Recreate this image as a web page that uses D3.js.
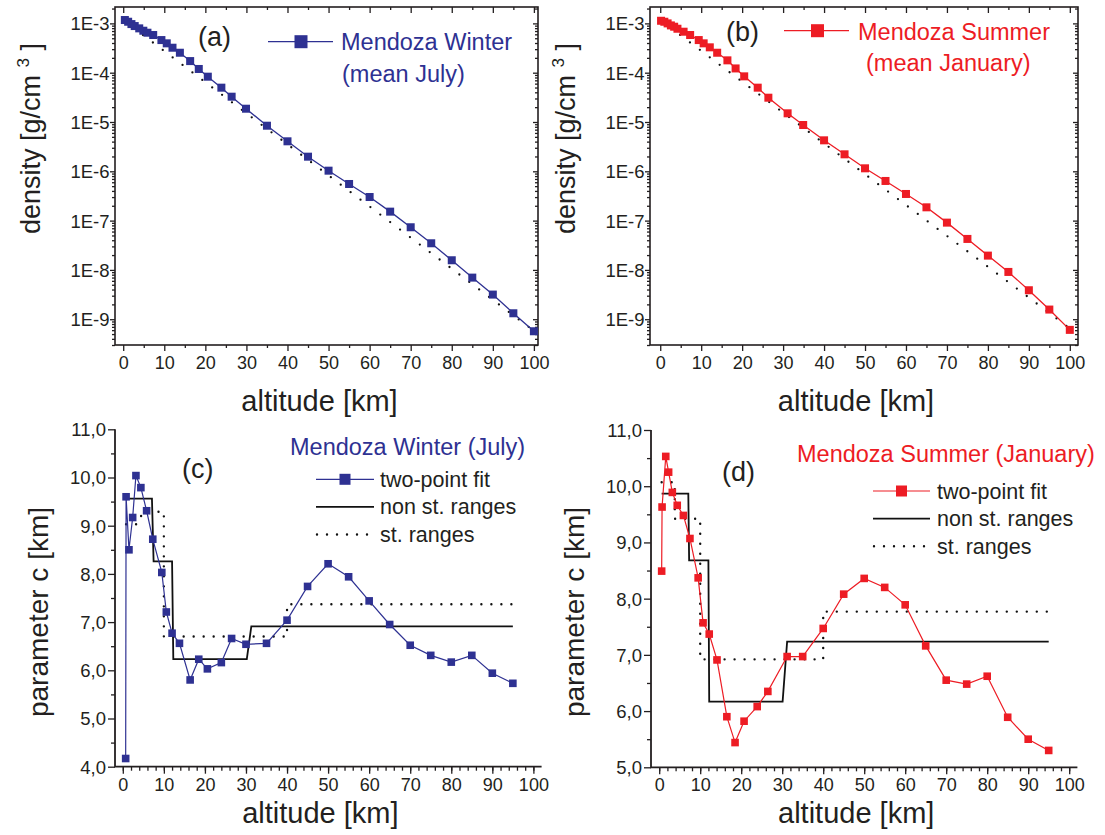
<!DOCTYPE html>
<html><head><meta charset="utf-8">
<script src="https://cdn.jsdelivr.net/npm/d3@7"></script>
<style>
body{margin:0;background:#fff}
svg{display:block}
text{font-family:"Liberation Sans",Arial,Helvetica,sans-serif}
</style>
</head><body>
<svg id="chart" width="1105" height="835"></svg>
<script>
// ---------------- data ----------------
const altTicks = [0,10,20,30,40,50,60,70,80,90,100];
const decadeTicks = [1e-9,1e-8,1e-7,1e-6,1e-5,1e-4,1e-3];
const cTicksWinter = [4,5,6,7,8,9,10,11];
const cTicksSummer = [5,6,7,8,9,10,11];

const winterAlt = [0.4,1.2,2,2.8,3.9,4.9,5.9,7.3,9.3,10.6,12,13.8,16.3,18.4,20.6,23.9,26.4,29.9,35,40,45,50,55,60,65,70,75,80,85,90,95,100];
const winterDensity = [1.17e-3,1.08e-3,9.68e-4,8.83e-4,7.93e-4,7.10e-4,6.47e-4,5.81e-4,4.59e-4,3.94e-4,3.21e-4,2.54e-4,1.72e-4,1.19e-4,8.30e-5,4.97e-5,3.26e-5,1.86e-5,8.41e-6,4.06e-6,1.98e-6,1.03e-6,5.53e-7,3.01e-7,1.52e-7,7.33e-8,3.47e-8,1.57e-8,6.98e-9,3.16e-9,1.32e-9,5.70e-10];

const summerAlt = [0.2,1,1.8,2.6,3.4,4.2,5.7,7.3,9.4,10.6,12.1,13.9,16.4,18.4,20.5,23.8,26.4,31.1,34.9,40,45,50,55,60,65,70,75,80,85,90,95,100];
const summerDensity = [1.13e-3,1.08e-3,1.00e-3,9.10e-4,8.56e-4,7.79e-4,6.78e-4,5.81e-4,4.59e-4,3.94e-4,3.27e-4,2.54e-4,1.78e-4,1.22e-4,8.43e-5,4.97e-5,3.11e-5,1.50e-5,8.69e-6,4.25e-6,2.21e-6,1.15e-6,6.37e-7,3.47e-7,1.86e-7,9.10e-8,4.25e-8,1.95e-8,9.10e-9,3.87e-9,1.57e-9,6.08e-10];

const refAlt = [0, 100];
const refDensityWinter = [1.17e-3, 5.8e-10];
const refDensitySummer = [1.17e-3, 6.5e-10];

const cAltWinter = [0.7,0.8,1.5,2.4,3.2,4.4,5.8,7.3,9.5,10.6,12,13.8,16.4,18.5,20.6,24,26.5,30,35,40,45,50,55,60,65,70,75,80,85,90,95];
const cWinter = [4.17,9.60,8.50,9.17,10.04,9.79,9.31,8.72,8.03,7.21,6.77,6.56,5.80,6.23,6.03,6.16,6.66,6.54,6.56,7.04,7.74,8.21,7.94,7.44,6.95,6.52,6.31,6.17,6.31,5.94,5.73];

const cAltSummer = [0.6,0.7,1.6,2.3,3.2,4.4,5.9,7.5,9.5,10.7,12.2,14.1,16.5,18.5,20.7,23.9,26.5,31.2,35,40,45,50,55,60,65,70,75,80,85,90,95];
const cSummer = [8.49,9.63,10.53,10.25,9.89,9.66,9.48,9.07,8.37,7.57,7.37,6.91,5.90,5.44,5.82,6.08,6.35,6.97,6.97,7.47,8.08,8.36,8.20,7.89,7.16,6.55,6.48,6.62,5.89,5.50,5.30];

const nonStAltWinter = [0.8,7.1,7.5,12,12.3,30.2,31.3,95];
const nonStWinter    = [9.56,9.56,8.26,8.26,6.23,6.23,6.91,6.91];
const stAltWinter    = [0.8,3.4,5,10,10,40,40,95];
const stWinter       = [9.03,9.03,9.29,9.29,6.70,6.70,7.37,7.37];

const nonStAltSummer = [0.6,7.1,7.3,12,12.2,30.1,31.2,95];
const nonStSummer    = [9.87,9.87,8.68,8.68,6.17,6.17,7.235,7.235];
const stAltSummer    = [0.6,3.8,3.8,10,10,40,40,95];
const stSummer       = [10.07,10.07,9.42,9.42,6.92,6.92,7.77,7.77];

// ---------------- drawing ----------------
const svg = d3.select("#chart");
const BLUE = "#2e3192", RED = "#ed1c24", INK = "#231f20";

function drawAxis(g, gen, transform, fontSize) {
  const a = g.append("g").attr("transform", transform).call(gen);
  a.select(".domain").remove();
  a.attr("font-family", null).attr("font-size", null);
  a.selectAll("line").attr("stroke", INK).attr("stroke-width", 1.3);
  a.selectAll("text").attr("fill", INK).style("font-size", (fontSize||18) + "px");
  return a;
}

function zip(xs, ys) { return xs.map((v, i) => [v, ys[i]]); }

function densityPanel(p) {
  const g = svg.append("g");
  const x = d3.scaleLinear().domain(p.xDomain).range([p.left, p.right]);
  const y = d3.scaleLog().domain([3.0e-10, 2.15e-3]).range([p.bottom, p.top]);
  const minors = [];
  for (let k = -10; k <= -3; k++) for (let m = 2; m <= 9; m++) {
    const v = m * Math.pow(10, k);
    if (v >= 3.0e-10 && v <= 2.15e-3) minors.push(v);
  }
  const xMinor = d3.range(5, 100, 10);
  // bottom
  const b = drawAxis(g, d3.axisBottom(x).tickValues(altTicks).tickSize(6).tickSizeOuter(0).tickFormat(d3.format("d")), `translate(0,${p.bottom})`);
  b.selectAll("text").attr("y", 24).attr("dy", 0);
  drawAxis(g, d3.axisBottom(x).tickValues(xMinor).tickSize(3).tickSizeOuter(0).tickFormat(""), `translate(0,${p.bottom})`);
  // top (inward)
  drawAxis(g, d3.axisBottom(x).tickValues(altTicks).tickSize(6).tickSizeOuter(0).tickFormat(""), `translate(0,${p.top})`);
  drawAxis(g, d3.axisBottom(x).tickValues(xMinor).tickSize(3).tickSizeOuter(0).tickFormat(""), `translate(0,${p.top})`);
  // left
  const l = drawAxis(g, d3.axisLeft(y).tickValues(decadeTicks).tickSize(5).tickSizeOuter(0).tickFormat(d => "1E" + Math.round(Math.log10(d))), `translate(${p.left},0)`, 18.5);
  l.selectAll("text").attr("x", -5.5).attr("dy", "0.35em");
  drawAxis(g, d3.axisLeft(y).tickValues(minors).tickSize(3).tickSizeOuter(0).tickFormat(""), `translate(${p.left},0)`);
  // right (inward)
  drawAxis(g, d3.axisLeft(y).tickValues(decadeTicks).tickSize(5).tickSizeOuter(0).tickFormat(""), `translate(${p.right},0)`);
  drawAxis(g, d3.axisLeft(y).tickValues(minors).tickSize(3).tickSizeOuter(0).tickFormat(""), `translate(${p.right},0)`);
  // frame
  g.append("rect").attr("x", p.left).attr("y", p.top).attr("width", p.right - p.left).attr("height", p.bottom - p.top)
    .attr("fill", "none").attr("stroke", INK).attr("stroke-width", 1.6);

  const line = d3.line().x(d => x(d[0])).y(d => y(d[1]));
  // reference (dotted)
  g.append("path").datum(zip(refAlt, p.ref)).attr("d", line).attr("fill", "none")
    .attr("stroke", "#111").attr("stroke-width", 2.3).attr("stroke-linecap", "round").attr("stroke-dasharray", "0 12.4");
  // data
  const pts = zip(p.alt, p.dens);
  g.append("path").datum(pts).attr("d", line).attr("fill", "none").attr("stroke", p.color).attr("stroke-width", 1.3);
  g.selectAll("rect.pt").data(pts).enter().append("rect").attr("class", "pt")
    .attr("x", d => x(d[0]) - 4).attr("y", d => y(d[1]) - 4).attr("width", 8).attr("height", 8).attr("fill", p.color);

  // labels
  g.append("text").attr("x", (p.left + p.right) / 2 + p.xLabelShift).attr("y", 411).attr("text-anchor", "middle")
    .style("font-size", "29px").attr("fill", INK).text("altitude [km]");
  const yl = g.append("text").attr("transform", `translate(${p.left - 75},138.5) rotate(-90)`).attr("text-anchor", "middle")
    .style("font-size", "27px").attr("fill", INK);
  yl.append("tspan").text("density [g/cm ");
  yl.append("tspan").attr("dy", -11).style("font-size", "17px").text("3");
  yl.append("tspan").attr("dy", 11).text(" ]");
  g.append("text").attr("x", p.tag[0]).attr("y", p.tag[1]).style("font-size", "27px").attr("fill", INK).text(p.tagText);
  // legend
  const L = p.legend;
  g.append("line").attr("x1", L.x1).attr("x2", L.x2).attr("y1", L.y).attr("y2", L.y).attr("stroke", p.color).attr("stroke-width", 1.3);
  g.append("rect").attr("x", L.sq - 6.5).attr("y", L.y - 6.5).attr("width", 13).attr("height", 13).attr("fill", p.color);
  g.append("text").attr("x", L.t1[0]).attr("y", L.t1[1]).style("font-size", "23.5px").attr("fill", p.color).text(L.line1);
  g.append("text").attr("x", L.t2[0]).attr("y", L.t2[1]).style("font-size", "23.5px").attr("fill", p.color).text(L.line2);
}

function cPanel(p) {
  const g = svg.append("g");
  const x = d3.scaleLinear().domain(p.xDomain).range([p.left, p.right]);
  const y = d3.scaleLinear().domain(p.yDomain).range([p.bottom, p.top]);
  const xMinor = d3.range(0, 101, 2);
  const yMinor = d3.range(p.yDomain[0] + 0.5, p.yDomain[1], 1);
  const b = drawAxis(g, d3.axisBottom(x).tickValues(altTicks).tickSize(7).tickSizeOuter(0).tickFormat(d3.format("d")), `translate(0,${p.bottom})`);
  b.selectAll("text").attr("y", 24).attr("dy", 0);
  drawAxis(g, d3.axisBottom(x).tickValues(xMinor).tickSize(4).tickSizeOuter(0).tickFormat(""), `translate(0,${p.bottom})`);
  const l = drawAxis(g, d3.axisLeft(y).tickValues(p.yTicks).tickSize(7).tickSizeOuter(0).tickFormat(d => d3.format(".1f")(d).replace(".", ",")), `translate(${p.left},0)`, 18.5);
  l.selectAll("text").attr("x", -9).attr("dy", "0.35em");
  drawAxis(g, d3.axisLeft(y).tickValues(yMinor).tickSize(4).tickSizeOuter(0).tickFormat(""), `translate(${p.left},0)`);
  g.append("path").attr("d", `M${p.left},${p.top}V${p.bottom}H${p.right}`).attr("fill", "none").attr("stroke", INK).attr("stroke-width", 1.8);

  const line = d3.line().x(d => x(d[0])).y(d => y(d[1]));
  g.append("path").datum(zip(p.stAlt, p.st)).attr("d", line).attr("fill", "none").attr("stroke", "#111")
    .attr("stroke-width", 2.4).attr("stroke-linecap", "round").attr("stroke-dasharray", "0 10");
  g.append("path").datum(zip(p.nsAlt, p.ns)).attr("d", line).attr("fill", "none").attr("stroke", "#111").attr("stroke-width", 1.8);
  const pts = zip(p.alt, p.c);
  g.append("path").datum(pts).attr("d", line).attr("fill", "none").attr("stroke", p.color).attr("stroke-width", 1.2);
  g.selectAll("rect.pt").data(pts).enter().append("rect").attr("class", "pt")
    .attr("x", d => x(d[0]) - 3.8).attr("y", d => y(d[1]) - 3.8).attr("width", 7.6).attr("height", 7.6).attr("fill", p.color);

  g.append("text").attr("x", (p.left + p.right) / 2 + p.xLabelShift).attr("y", 823).attr("text-anchor", "middle")
    .style("font-size", "29px").attr("fill", INK).text("altitude [km]");
  g.append("text").attr("transform", `translate(${p.left - 67},612) rotate(-90)`).attr("text-anchor", "middle")
    .style("font-size", "28px").attr("fill", INK).text("parameter c [km]");
  g.append("text").attr("x", p.tag[0]).attr("y", p.tag[1]).style("font-size", "27px").attr("fill", INK).text(p.tagText);
  g.append("text").attr("x", p.title[0]).attr("y", p.title[1]).style("font-size", "23.5px").attr("fill", p.color).text(p.titleText);

  const L = p.legend;
  const rows = [L.y0, L.y0 + 27.6, L.y0 + 55.2];
  g.append("line").attr("x1", L.x1).attr("x2", L.x2).attr("y1", rows[0]).attr("y2", rows[0]).attr("stroke", p.color).attr("stroke-width", 1.2);
  g.append("rect").attr("x", (L.x1 + L.x2) / 2 - 5.5).attr("y", rows[0] - 5.5).attr("width", 11).attr("height", 11).attr("fill", p.color);
  g.append("line").attr("x1", L.x1).attr("x2", L.x2).attr("y1", rows[1]).attr("y2", rows[1]).attr("stroke", "#111").attr("stroke-width", 1.8);
  g.append("line").attr("x1", L.x1 + 1).attr("x2", L.x2).attr("y1", rows[2]).attr("y2", rows[2]).attr("stroke", "#111")
    .attr("stroke-width", 2.4).attr("stroke-linecap", "round").attr("stroke-dasharray", "0 10");
  const names = ["two-point fit", "non st. ranges", "st. ranges"];
  names.forEach((n, i) => g.append("text").attr("x", L.tx).attr("y", rows[i] + 7.5).style("font-size", "21.5px").attr("fill", INK).text(n));
}

densityPanel({
  left: 115, right: 538, top: 7, bottom: 345, xDomain: [-2, 101], xLabelShift: -7,
  alt: winterAlt, dens: winterDensity, ref: refDensityWinter, color: BLUE,
  tag: [198, 46], tagText: "(a)",
  legend: { x1: 268, x2: 333, y: 41.7, sq: 301, t1: [341, 50], t2: [342, 82], line1: "Mendoza Winter", line2: "(mean July)" }
});
densityPanel({
  left: 650, right: 1078, top: 7, bottom: 345, xDomain: [-2.5, 102], xLabelShift: -8,
  alt: summerAlt, dens: summerDensity, ref: refDensitySummer, color: RED,
  tag: [726, 41], tagText: "(b)",
  legend: { x1: 784, x2: 849, y: 30.7, sq: 817.5, t1: [858, 40], t2: [866, 71], line1: "Mendoza Summer", line2: "(mean January)" }
});
cPanel({
  left: 115, right: 541.6, top: 429.3, bottom: 766.7, xDomain: [-1.9, 102], yDomain: [4, 11], yTicks: cTicksWinter, xLabelShift: -8,
  alt: cAltWinter, c: cWinter, nsAlt: nonStAltWinter, ns: nonStWinter, stAlt: stAltWinter, st: stWinter, color: BLUE,
  tag: [182, 478], tagText: "(c)", title: [290, 455], titleText: "Mendoza Winter (July)",
  legend: { x1: 316, x2: 374, y0: 479.3, tx: 380 }
});
cPanel({
  left: 651, right: 1077.4, top: 430, bottom: 767.3, xDomain: [-2, 102], yDomain: [5, 11], yTicks: cTicksSummer, xLabelShift: -8,
  alt: cAltSummer, c: cSummer, nsAlt: nonStAltSummer, ns: nonStSummer, stAlt: stAltSummer, st: stSummer, color: RED,
  tag: [722, 481], tagText: "(d)", title: [797, 462], titleText: "Mendoza Summer (January)",
  legend: { x1: 873, x2: 930, y0: 491, tx: 937 }
});
</script>
</body></html>
